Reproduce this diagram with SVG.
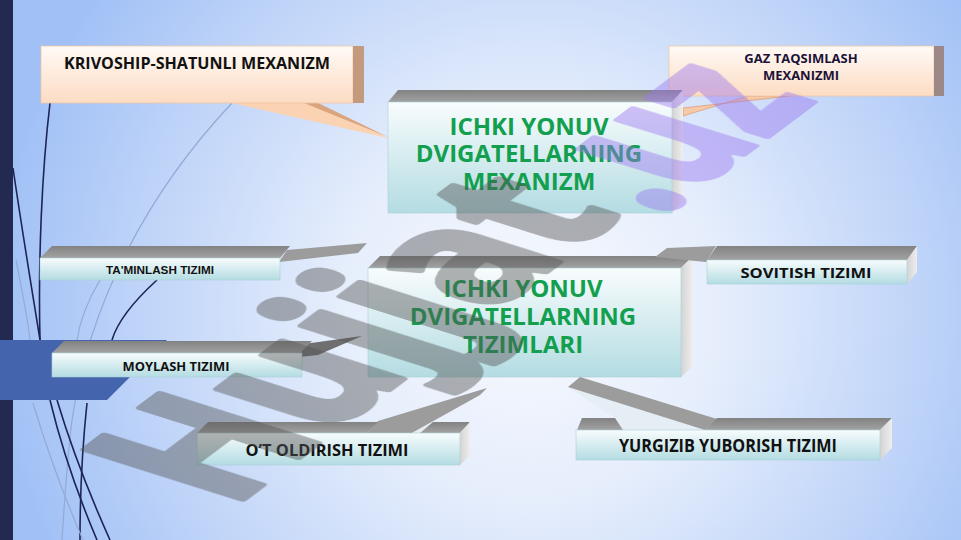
<svg xmlns="http://www.w3.org/2000/svg" width="961" height="540" viewBox="0 0 961 540">
<defs>
<radialGradient id="bg" gradientUnits="userSpaceOnUse" cx="530" cy="310" r="540">
<stop offset="0" stop-color="#f7f9fe"/>
<stop offset="0.35" stop-color="#e6eefc"/>
<stop offset="0.75" stop-color="#bcd2f8"/>
<stop offset="1" stop-color="#a0c0f6"/>
</radialGradient>
<linearGradient id="teal" x1="0" y1="0" x2="0" y2="1">
<stop offset="0" stop-color="#f8fcfd"/>
<stop offset="1" stop-color="#b3dce2"/>
</linearGradient>
<linearGradient id="peach" x1="0" y1="0" x2="0" y2="1">
<stop offset="0" stop-color="#fffaf6"/>
<stop offset="1" stop-color="#fcdcc3"/>
</linearGradient>
<linearGradient id="topg" x1="0" y1="0" x2="0" y2="1">
<stop offset="0" stop-color="#828282"/>
<stop offset="1" stop-color="#a2a2a2"/>
</linearGradient>
<linearGradient id="side" x1="0" y1="0" x2="1" y2="0">
<stop offset="0" stop-color="#d4d4d4"/>
<stop offset="1" stop-color="#eeeeee"/>
</linearGradient>
</defs>
<style>
.face{fill:url(#teal);stroke:#a9cfd6;stroke-width:0.6}
.pface{fill:url(#peach);stroke:#efc6a6;stroke-width:0.8}
.top{fill:url(#topg)}
.side{fill:url(#side)}
.tail{fill:#9c9c9c}
.lite{fill:#e6eef5}
.lbl{font-family:"Open Sans","DejaVu Sans",sans-serif;font-weight:700;fill:#111;text-anchor:middle}
.big{font-family:"Open Sans","DejaVu Sans",sans-serif;font-weight:700;font-size:24px;fill:#12a04f;text-anchor:middle}
.dk{fill:none;stroke:#1d2456;stroke-width:1.6}
.lt{fill:none;stroke:#93a9d6;stroke-width:1.2}
.wm{font-family:"Open Sans",sans-serif;font-weight:700;stroke-linejoin:round}
</style>
<rect x="0" y="0" width="961" height="540" fill="url(#bg)"/>
<rect x="0" y="0" width="13" height="540" fill="#222a52"/>
<g id="decor-lines">
<path class="dk" d="M13,168 C22,230 32,290 40,340"/>
<path class="dk" d="M50,103 C42,170 38,260 40,340"/>
<path class="lt" d="M232,103 C150,190 90,300 72,420 C66,470 64,510 62,540"/>
<path class="dk" d="M157,280 C135,300 118,320 112,340"/>
<path class="lt" d="M100,280 C88,300 80,320 77,340"/>
<path class="lt" d="M16,260 C24,300 28,320 30,340"/>
<path class="dk" d="M50,400 C62,450 80,500 97,540"/>
<path class="dk" d="M57,400 C72,450 92,500 110,540"/>
<path class="dk" d="M87,403 C82,450 80,500 80,540"/>
<path class="lt" d="M33,403 C50,460 70,510 83,540"/>
</g>
<polygon points="0,340 167,340 107,400 0,400" fill="#4464ae"/>
<g id="krivoship">
<polygon points="232,103 388,138 318,103" fill="#fbd3b2"/>
<polygon points="304,103 318,103 388,137" fill="#d9a47e"/>
<rect class="pface" x="41" y="46" width="312" height="57"/>
<rect x="353" y="46" width="11" height="57" fill="#c49a7e"/>
<text class="lbl" x="197" y="69" font-size="16" textLength="266" lengthAdjust="spacingAndGlyphs">KRIVOSHIP-SHATUNLI MEXANIZM</text>
</g>
<g id="gaz">
<polygon points="683,108 790,96 748,96 683,116" fill="#f6c9a8" stroke="#d9a07a" stroke-width="0.8"/>
<rect class="pface" x="669" y="46" width="265" height="50"/>
<rect x="934" y="46" width="10" height="50" fill="#9c8886"/>
<text class="lbl" x="801" y="63" font-size="13" style="fill:#1c1238">GAZ TAQSIMLASH</text>
<text class="lbl" x="801" y="80" font-size="13" style="fill:#1c1238">MEXANIZMI</text>
</g>
<g id="mexanizm">
<polygon class="top" points="388,102 398,90 683,90 672,102"/>
<polygon class="side" points="672,102 683,90 683,201 672,213"/>
<rect class="face" x="388" y="102" width="284" height="111"/>
<text class="big" x="529" y="135">ICHKI YONUV</text>
<text class="big" x="529" y="162">DVIGATELLARNING</text>
<text class="big" x="529" y="190">MEXANIZM</text>
</g>
<g id="tizimlari">
<polygon class="top" points="368,268 380,256 693,256 681,268"/>
<polygon class="side" points="681,268 693,256 693,366 681,377"/>
<rect class="face" x="368" y="268" width="313" height="109"/>
<text class="big" x="523" y="297">ICHKI YONUV</text>
<text class="big" x="523" y="325">DVIGATELLARNING</text>
<text class="big" x="523" y="353">TIZIMLARI</text>
</g>
<g id="taminlash">
<polygon class="tail" points="279,262 287,250 367,243 358,253"/>
<polygon class="top" points="40,258 52,246 290,246 280,258"/>
<rect class="face" x="40" y="258" width="240" height="22"/>
<text x="160" y="274" font-family="'Liberation Sans',Arial,sans-serif" font-weight="700" font-size="11.5" fill="#111" text-anchor="middle" textLength="108" lengthAdjust="spacingAndGlyphs">TA'MINLASH TIZIMI</text>
</g>
<g id="moylash">
<polygon points="290,358 304,344 362,336 318,355" fill="#6f6f6f"/>
<polygon class="top" points="52,353 64,341 312,341 300,353"/>
<rect class="face" x="52" y="353" width="250" height="24"/>
<text class="lbl" x="176" y="371" font-size="12.5" textLength="107" lengthAdjust="spacingAndGlyphs">MOYLASH TIZIMI</text>
</g>
<g id="sovitish">
<polygon class="tail" points="655,257 667,248 716,246 706,262"/>
<polygon class="top" points="707,260 717,246 917,246 907,260"/>
<polygon class="side" points="907,260 917,246 917,272 907,284"/>
<rect class="face" x="707" y="260" width="200" height="24"/>
<text class="lbl" x="806" y="278" font-size="15" textLength="131" lengthAdjust="spacingAndGlyphs">SOVITISH TIZIMI</text>
</g>
<g id="otoldirish">
<polygon class="lite" points="410,434 480,395 433,422 420,433"/>
<polygon class="tail" points="367,433 378,421 487,388 480,395 410,434"/>
<polygon class="top" points="197,433 208,422 378,422 367,433"/>
<polygon class="top" points="420,433 433,422 470,422 460,433"/>
<polygon class="side" points="460,433 470,422 470,455 460,465"/>
<rect class="face" x="197" y="433" width="263" height="32"/>
<text class="lbl" x="327" y="456" font-size="16" textLength="163" lengthAdjust="spacingAndGlyphs">O’T OLDIRISH TIZIMI</text>
</g>
<g id="yurgizib">
<polygon class="lite" points="568,387 705,430 623,430 615,418"/>
<polygon class="tail" points="568,387 580,377 717,419 705,430"/>
<polygon class="top" points="577,430 582,418 615,418 623,430"/>
<polygon class="top" points="705,430 717,418 892,418 880,430"/>
<polygon class="side" points="880,430 892,418 892,448 880,460"/>
<rect class="face" x="576" y="430" width="304" height="30"/>
<text class="lbl" x="728" y="452" font-size="17" textLength="218" lengthAdjust="spacingAndGlyphs">YURGIZIB YUBORISH TIZIMI</text>
</g>
<g id="watermark" opacity="0.45">
<text class="wm" transform="matrix(1.28,-0.96,2.185,0.69,231,508)" font-size="100" fill="#555555" stroke="#555555" stroke-width="4">Hujjat</text>
<text class="wm" transform="matrix(1.28,-0.96,2.6,0.8,661,216)" font-size="85" fill="#9a78f0" stroke="#9a78f0" stroke-width="3">.uz</text>
</g>
</svg>
